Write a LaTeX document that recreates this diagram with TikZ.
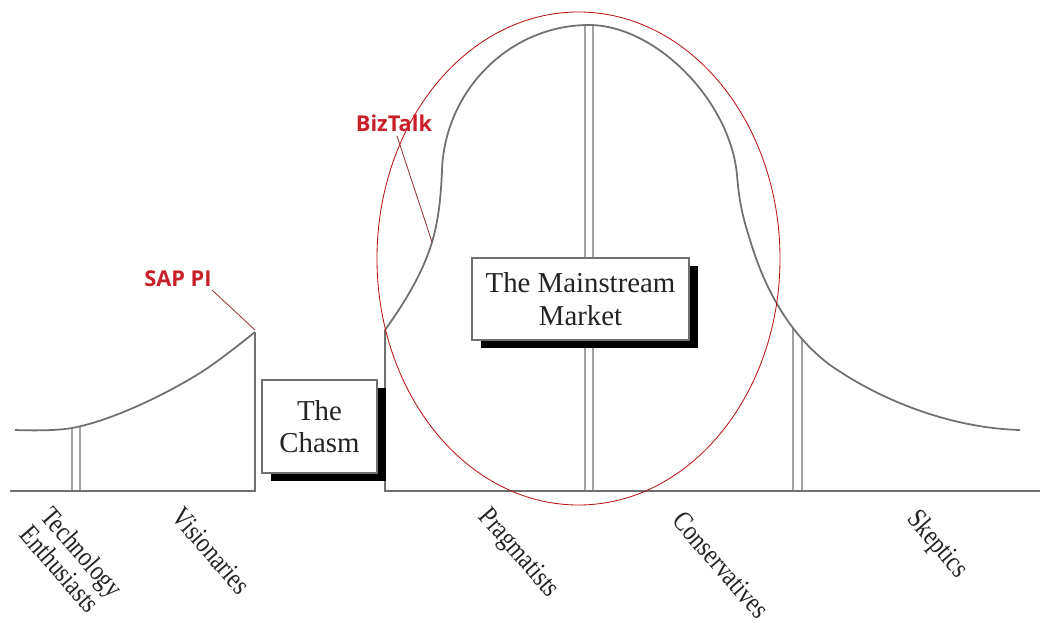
\documentclass[tikz,border=0pt]{standalone}
\usepackage{fontspec}
\setmainfont{Liberation Serif}
\newfontfamily\labelfont{Open Sans}
\usetikzlibrary{shadows,intersections}
\definecolor{curvegray}{RGB}{112,112,112}
\definecolor{tagred}{RGB}{200,32,40}
\definecolor{ringred}{RGB}{185,20,20}
\definecolor{leadred}{RGB}{150,55,55}
\definecolor{inkgray}{RGB}{35,35,35}
\begin{document}
\begin{tikzpicture}[x=0.025cm,y=-0.025cm,
  curve/.style={draw=curvegray,line width=1.25pt},
  bar/.style={draw=curvegray,line width=1pt},
  box/.style={draw=curvegray,line width=0.8pt,fill=white,align=center,
    font=\fontsize{20.5}{23}\selectfont,text=inkgray,inner sep=0pt,
    drop shadow={shadow xshift=0.225cm,shadow yshift=-0.2cm,fill=black,opacity=1}},
  group/.style={font=\fontsize{20}{19.6}\selectfont,text=inkgray,inner sep=0pt,rotate=-49,xscale=0.82},
  tag/.style={font=\labelfont\bfseries\fontsize{15.5}{18}\selectfont,text=tagred,inner sep=0pt},
  leader/.style={draw=leadred,line width=0.6pt},
  ring/.style={draw=ringred,line width=0.6pt}]
\useasboundingbox[fill=white] (0,0) rectangle (1040,624);

% axis and chasm walls
\draw[curve] (10,491) -- (255,491) -- (255,332);
\draw[curve] (385,330) -- (385,491) -- (1040,491);

% early market curve
\draw[curve,name path=early] plot[smooth,tension=0.6] coordinates {(15,430) (72,428) (133,408) (200,373) (255,332)};

% mainstream bell curve
\draw[curve,name path=bell] (385,330)
  .. controls (405,302) and (425,270) .. (434,235)
  .. controls (439,215) and (441,195) .. (442,170)
  .. controls (445,90) and (510,25) .. (589,25)
  .. controls (655,25) and (730,100) .. (737,175)
  .. controls (739,200) and (742,215) .. (750,240)
  .. controls (765,290) and (790,335) .. (830,365)
  .. controls (880,400) and (950,428) .. (1020,430);

% segment dividers
\path[name path=va] (72,300) -- (72,491);
\path[name path=vb] (80,300) -- (80,491);
\path[name path=vc] (585,0) -- (585,491);
\path[name path=vd] (593,0) -- (593,491);
\path[name path=ve] (793,200) -- (793,491);
\path[name path=vf] (802,200) -- (802,491);
\draw[bar,name intersections={of=early and va}] (intersection-1) -- (72,491);
\draw[bar,name intersections={of=early and vb}] (intersection-1) -- (80,491);
\draw[bar,name intersections={of=bell and vc}] (intersection-1) -- (585,491);
\draw[bar,name intersections={of=bell and vd}] (intersection-1) -- (593,491);
\draw[bar,name intersections={of=bell and ve}] (intersection-1) -- (793,491);
\draw[bar,name intersections={of=bell and vf}] (intersection-1) -- (802,491);

% boxes
\node[box,minimum width=2.875cm,minimum height=2.325cm] (chasm) at (319.5,426.5) {The\\Chasm};
\node[box,minimum width=5.425cm,minimum height=2.05cm] (main) at (580.5,299) {The Mainstream\\Market};

% red ellipse
\draw[ring] (578.5,258.5) ellipse [x radius=201.5, y radius=246.5];

% tags
\node[tag] (sap) at (178,279) {SAP PI};
\coordinate (saptip) at (255,330);
\draw[leader] (212,290) -- (saptip);
\node[tag] (biz) at (394,123) {BizTalk};
\coordinate (biztip) at (432,242);
\draw[leader] (397,136) -- (biztip);

% group labels
\node[group,align=left] (tech) at (72,561) {Technology\\Enthusiasts};
\node[group] (vis) at (211,551) {Visionaries};
\node[group] (prag) at (518,554) {Pragmatists};
\node[group] (cons) at (721,565) {Conservatives};
\node[group] (skep) at (937,545) {Skeptics};
\end{tikzpicture}
\end{document}
